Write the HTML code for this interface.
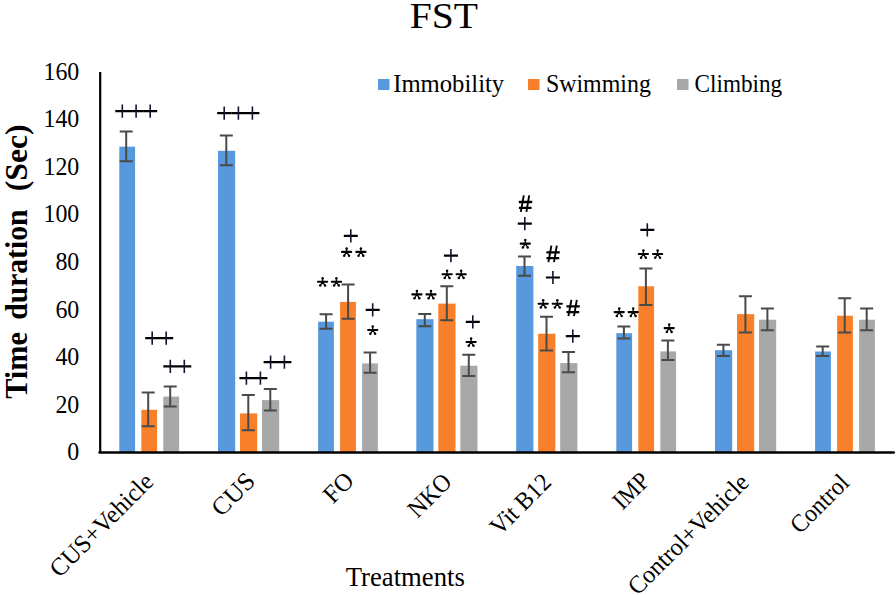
<!DOCTYPE html><html><head><meta charset="utf-8"><style>html,body{margin:0;padding:0;background:#fff;width:896px;height:595px;overflow:hidden}svg{display:block}text{font-family:"Liberation Serif", serif}</style></head><body>
<svg width="896" height="595" viewBox="0 0 896 595">
<text transform="translate(443.9,27.6) scale(1.1,1)" font-size="36" text-anchor="middle">FST</text>
<text transform="translate(79.3,460.4) scale(0.92,1)" font-size="26" text-anchor="end">0</text>
<text transform="translate(79.3,412.8) scale(0.92,1)" font-size="26" text-anchor="end">20</text>
<text transform="translate(79.3,365.2) scale(0.92,1)" font-size="26" text-anchor="end">40</text>
<text transform="translate(79.3,317.6) scale(0.92,1)" font-size="26" text-anchor="end">60</text>
<text transform="translate(79.3,270.0) scale(0.92,1)" font-size="26" text-anchor="end">80</text>
<text transform="translate(79.3,222.4) scale(0.92,1)" font-size="26" text-anchor="end">100</text>
<text transform="translate(79.3,174.8) scale(0.92,1)" font-size="26" text-anchor="end">120</text>
<text transform="translate(79.3,127.2) scale(0.92,1)" font-size="26" text-anchor="end">140</text>
<text transform="translate(79.3,79.6) scale(0.92,1)" font-size="26" text-anchor="end">160</text>
<text transform="translate(27.2,0) rotate(-90)" x="-398.8" font-size="32" font-weight="bold" textLength="66.6" lengthAdjust="spacingAndGlyphs">Time</text>
<text transform="translate(27.2,0) rotate(-90)" x="-319.8" font-size="32" font-weight="bold" textLength="110.2" lengthAdjust="spacingAndGlyphs">duration</text>
<text transform="translate(27.2,0) rotate(-90)" x="-191.2" font-size="32" font-weight="bold" textLength="66.7" lengthAdjust="spacingAndGlyphs">(Sec)</text>
<rect x="119.30" y="146.7" width="15.80" height="305.3" fill="#5799DC"/>
<rect x="141.30" y="409.8" width="15.80" height="42.2" fill="#F9802B"/>
<rect x="163.30" y="396.6" width="15.80" height="55.4" fill="#A8A8A8"/>
<rect x="218.00" y="150.8" width="17.20" height="301.2" fill="#5799DC"/>
<rect x="240.00" y="413.4" width="17.20" height="38.6" fill="#F9802B"/>
<rect x="262.00" y="400.1" width="17.20" height="51.9" fill="#A8A8A8"/>
<rect x="318.10" y="321.7" width="15.80" height="130.3" fill="#5799DC"/>
<rect x="340.10" y="301.9" width="15.80" height="150.1" fill="#F9802B"/>
<rect x="362.10" y="363.4" width="15.80" height="88.6" fill="#A8A8A8"/>
<rect x="416.30" y="319.2" width="17.20" height="132.8" fill="#5799DC"/>
<rect x="438.30" y="303.6" width="17.20" height="148.4" fill="#F9802B"/>
<rect x="460.30" y="365.7" width="17.20" height="86.3" fill="#A8A8A8"/>
<rect x="516.20" y="266.0" width="17.20" height="186.0" fill="#5799DC"/>
<rect x="538.20" y="333.7" width="17.20" height="118.3" fill="#F9802B"/>
<rect x="560.20" y="363.1" width="17.20" height="88.9" fill="#A8A8A8"/>
<rect x="616.30" y="333.2" width="15.80" height="118.8" fill="#5799DC"/>
<rect x="638.30" y="286.3" width="15.80" height="165.7" fill="#F9802B"/>
<rect x="660.30" y="351.4" width="15.80" height="100.6" fill="#A8A8A8"/>
<rect x="715.00" y="350.2" width="17.20" height="101.8" fill="#5799DC"/>
<rect x="737.00" y="314.1" width="17.20" height="137.9" fill="#F9802B"/>
<rect x="759.00" y="319.7" width="17.20" height="132.3" fill="#A8A8A8"/>
<rect x="815.10" y="351.5" width="15.80" height="100.5" fill="#5799DC"/>
<rect x="837.10" y="315.7" width="15.80" height="136.3" fill="#F9802B"/>
<rect x="859.10" y="319.7" width="15.80" height="132.3" fill="#A8A8A8"/>
<path d="M126.2 131.5V161.2M119.7 131.5H132.7M119.7 161.2H132.7" stroke="#4A4A4A" stroke-width="2" fill="none"/>
<path d="M148.2 392.4V426.3M141.7 392.4H154.7M141.7 426.3H154.7" stroke="#4A4A4A" stroke-width="2" fill="none"/>
<path d="M170.2 386.4V406.5M163.7 386.4H176.7M163.7 406.5H176.7" stroke="#4A4A4A" stroke-width="2" fill="none"/>
<path d="M226.3 135.5V165.3M219.8 135.5H232.8M219.8 165.3H232.8" stroke="#4A4A4A" stroke-width="2" fill="none"/>
<path d="M248.3 395.0V430.3M241.8 395.0H254.8M241.8 430.3H254.8" stroke="#4A4A4A" stroke-width="2" fill="none"/>
<path d="M270.3 388.9V410.5M263.8 388.9H276.8M263.8 410.5H276.8" stroke="#4A4A4A" stroke-width="2" fill="none"/>
<path d="M326.1 314.2V328.8M319.6 314.2H332.6M319.6 328.8H332.6" stroke="#4A4A4A" stroke-width="2" fill="none"/>
<path d="M348.1 284.6V318.7M341.6 284.6H354.6M341.6 318.7H354.6" stroke="#4A4A4A" stroke-width="2" fill="none"/>
<path d="M370.1 352.4V372.8M363.6 352.4H376.6M363.6 372.8H376.6" stroke="#4A4A4A" stroke-width="2" fill="none"/>
<path d="M424.8 314.1V326.2M418.3 314.1H431.3M418.3 326.2H431.3" stroke="#4A4A4A" stroke-width="2" fill="none"/>
<path d="M446.8 286.3V320.2M440.3 286.3H453.3M440.3 320.2H453.3" stroke="#4A4A4A" stroke-width="2" fill="none"/>
<path d="M468.8 354.7V376.0M462.3 354.7H475.3M462.3 376.0H475.3" stroke="#4A4A4A" stroke-width="2" fill="none"/>
<path d="M524.5 256.5V275.8M518.0 256.5H531.0M518.0 275.8H531.0" stroke="#4A4A4A" stroke-width="2" fill="none"/>
<path d="M546.5 316.7V350.4M540.0 316.7H553.0M540.0 350.4H553.0" stroke="#4A4A4A" stroke-width="2" fill="none"/>
<path d="M568.5 352.0V372.2M562.0 352.0H575.0M562.0 372.2H575.0" stroke="#4A4A4A" stroke-width="2" fill="none"/>
<path d="M623.9 326.4V338.4M617.4 326.4H630.4M617.4 338.4H630.4" stroke="#4A4A4A" stroke-width="2" fill="none"/>
<path d="M645.9 268.4V304.9M639.4 268.4H652.4M639.4 304.9H652.4" stroke="#4A4A4A" stroke-width="2" fill="none"/>
<path d="M667.9 340.4V360.1M661.4 340.4H674.4M661.4 360.1H674.4" stroke="#4A4A4A" stroke-width="2" fill="none"/>
<path d="M723.4 344.7V356.0M716.9 344.7H729.9M716.9 356.0H729.9" stroke="#4A4A4A" stroke-width="2" fill="none"/>
<path d="M745.4 296.3V332.6M738.9 296.3H751.9M738.9 332.6H751.9" stroke="#4A4A4A" stroke-width="2" fill="none"/>
<path d="M767.4 308.4V330.3M760.9 308.4H773.9M760.9 330.3H773.9" stroke="#4A4A4A" stroke-width="2" fill="none"/>
<path d="M822.7 346.5V356.0M816.2 346.5H829.2M816.2 356.0H829.2" stroke="#4A4A4A" stroke-width="2" fill="none"/>
<path d="M844.7 298.3V332.6M838.2 298.3H851.2M838.2 332.6H851.2" stroke="#4A4A4A" stroke-width="2" fill="none"/>
<path d="M866.7 308.4V330.3M860.2 308.4H873.2M860.2 330.3H873.2" stroke="#4A4A4A" stroke-width="2" fill="none"/>
<path d="M100.2 72V453" stroke="#000" stroke-width="2.2"/>
<path d="M99.5 452.5H893.8" stroke="#000" stroke-width="2.4" stroke-linecap="round"/>
<path d="M115.3 111.2H129.3M129.1 111.2H143.1M143.2 111.2H157.2M145.2 338.2H159.2M159.2 338.2H173.2M163.3 366.4H177.3M177.3 366.4H191.3M217.2 113.2H231.2M231.4 113.2H245.4M245.4 113.2H259.4M239.4 378.2H253.4M253.4 378.2H267.4M263.6 362.1H277.6M277.4 362.1H291.4M343.8 235.8H357.8M365.7 309.8H379.7M443.9 255.6H457.9M465.8 321.9H479.8M517.8 223.7H531.8M545.9 277.5H559.9M565.8 336.2H579.8M640.3 229.8H654.3" stroke="#000" stroke-width="2.2" fill="none"/>
<path d="M122.3 104.6V117.8M136.1 104.6V117.8M150.2 104.6V117.8M152.2 331.6V344.8M166.2 331.6V344.8M170.3 359.8V373.0M184.3 359.8V373.0M224.2 106.6V119.8M238.4 106.6V119.8M252.4 106.6V119.8M246.4 371.6V384.8M260.4 371.6V384.8M270.6 355.5V368.7M284.4 355.5V368.7M350.8 229.2V242.4M372.7 303.2V316.4M450.9 249.0V262.2M472.8 315.3V328.5M524.8 217.1V230.3M552.9 270.9V284.1M572.8 329.6V342.8M647.3 223.2V236.4" stroke="#1a1030" stroke-width="1.6" fill="none"/>
<path d="M318.0 281.8H327.2M331.8 281.8H341.1M342.0 251.9H351.2M356.3 251.9H365.5M368.1 330.0H377.3M412.3 294.4H421.5M426.4 294.4H435.6M442.5 274.2H451.7M456.6 274.2H465.8M466.5 342.0H475.7M520.7 243.6H529.9M538.6 303.8H547.8M552.7 303.8H561.9M614.6 312.1H623.8M628.6 312.1H637.8M638.8 254.0H648.0M653.0 254.0H662.2M664.6 328.1H673.8" stroke="#000" stroke-width="2.1" stroke-linecap="round" fill="none"/>
<path d="M322.6 281.8V278.1M322.6 281.8L320.2 285.6M322.6 281.8L325.0 285.6M336.4 281.8V278.1M336.4 281.8L334.1 285.6M336.4 281.8L338.8 285.6M346.6 251.9V248.2M346.6 251.9L344.2 255.7M346.6 251.9L349.0 255.7M360.9 251.9V248.2M360.9 251.9L358.5 255.7M360.9 251.9L363.3 255.7M372.7 330.0V326.3M372.7 330.0L370.3 333.8M372.7 330.0L375.1 333.8M416.9 294.4V290.7M416.9 294.4L414.5 298.2M416.9 294.4L419.3 298.2M431.0 294.4V290.7M431.0 294.4L428.6 298.2M431.0 294.4L433.4 298.2M447.1 274.2V270.5M447.1 274.2L444.7 278.0M447.1 274.2L449.5 278.0M461.2 274.2V270.5M461.2 274.2L458.8 278.0M461.2 274.2L463.6 278.0M471.1 342.0V338.3M471.1 342.0L468.7 345.8M471.1 342.0L473.5 345.8M525.3 243.6V239.9M525.3 243.6L522.9 247.4M525.3 243.6L527.7 247.4M543.2 303.8V300.1M543.2 303.8L540.8 307.6M543.2 303.8L545.6 307.6M557.3 303.8V300.1M557.3 303.8L554.9 307.6M557.3 303.8L559.7 307.6M619.2 312.1V308.4M619.2 312.1L616.8 315.9M619.2 312.1L621.6 315.9M633.2 312.1V308.4M633.2 312.1L630.8 315.9M633.2 312.1L635.6 315.9M643.4 254.0V250.3M643.4 254.0L641.0 257.8M643.4 254.0L645.8 257.8M657.6 254.0V250.3M657.6 254.0L655.2 257.8M657.6 254.0L660.0 257.8M669.2 328.1V324.4M669.2 328.1L666.8 331.9M669.2 328.1L671.6 331.9" stroke="#000" stroke-width="1.3" fill="none"/>
<g fill="#000"><circle cx="322.6" cy="278.3" r="1.25"/><circle cx="320.2" cy="285.6" r="1.25"/><circle cx="325.0" cy="285.6" r="1.25"/><circle cx="336.4" cy="278.3" r="1.25"/><circle cx="334.1" cy="285.6" r="1.25"/><circle cx="338.8" cy="285.6" r="1.25"/><circle cx="346.6" cy="248.4" r="1.25"/><circle cx="344.2" cy="255.7" r="1.25"/><circle cx="349.0" cy="255.7" r="1.25"/><circle cx="360.9" cy="248.4" r="1.25"/><circle cx="358.5" cy="255.7" r="1.25"/><circle cx="363.3" cy="255.7" r="1.25"/><circle cx="372.7" cy="326.5" r="1.25"/><circle cx="370.3" cy="333.8" r="1.25"/><circle cx="375.1" cy="333.8" r="1.25"/><circle cx="416.9" cy="290.9" r="1.25"/><circle cx="414.5" cy="298.2" r="1.25"/><circle cx="419.3" cy="298.2" r="1.25"/><circle cx="431.0" cy="290.9" r="1.25"/><circle cx="428.6" cy="298.2" r="1.25"/><circle cx="433.4" cy="298.2" r="1.25"/><circle cx="447.1" cy="270.7" r="1.25"/><circle cx="444.7" cy="278.0" r="1.25"/><circle cx="449.5" cy="278.0" r="1.25"/><circle cx="461.2" cy="270.7" r="1.25"/><circle cx="458.8" cy="278.0" r="1.25"/><circle cx="463.6" cy="278.0" r="1.25"/><circle cx="471.1" cy="338.5" r="1.25"/><circle cx="468.7" cy="345.8" r="1.25"/><circle cx="473.5" cy="345.8" r="1.25"/><circle cx="525.3" cy="240.1" r="1.25"/><circle cx="522.9" cy="247.4" r="1.25"/><circle cx="527.7" cy="247.4" r="1.25"/><circle cx="543.2" cy="300.3" r="1.25"/><circle cx="540.8" cy="307.6" r="1.25"/><circle cx="545.6" cy="307.6" r="1.25"/><circle cx="557.3" cy="300.3" r="1.25"/><circle cx="554.9" cy="307.6" r="1.25"/><circle cx="559.7" cy="307.6" r="1.25"/><circle cx="619.2" cy="308.6" r="1.25"/><circle cx="616.8" cy="315.9" r="1.25"/><circle cx="621.6" cy="315.9" r="1.25"/><circle cx="633.2" cy="308.6" r="1.25"/><circle cx="630.8" cy="315.9" r="1.25"/><circle cx="635.6" cy="315.9" r="1.25"/><circle cx="643.4" cy="250.5" r="1.25"/><circle cx="641.0" cy="257.8" r="1.25"/><circle cx="645.8" cy="257.8" r="1.25"/><circle cx="657.6" cy="250.5" r="1.25"/><circle cx="655.2" cy="257.8" r="1.25"/><circle cx="660.0" cy="257.8" r="1.25"/><circle cx="669.2" cy="324.6" r="1.25"/><circle cx="666.8" cy="331.9" r="1.25"/><circle cx="671.6" cy="331.9" r="1.25"/></g>
<path d="M523.8 195.4L520.8 211.8M529.2 195.4L526.4 211.8M551.4 245.7L548.4 262.1M556.8 245.7L554.0 262.1M571.4 299.8L568.4 316.2M576.8 299.8L574.0 316.2" stroke="#000" stroke-width="1.9" fill="none"/>
<path d="M518.8 202.0H532.2M518.9 207.8H531.6M546.4 252.3H559.8M546.5 258.1H559.2M566.4 306.4H579.8M566.5 312.2H579.2" stroke="#000" stroke-width="2.3" fill="none"/>
<text transform="translate(154.86,483.04) rotate(-45)" font-size="25" text-anchor="end" textLength="134.99" lengthAdjust="spacingAndGlyphs">CUS+Vehicle</text>
<text transform="translate(256.50,482.56) rotate(-45)" font-size="25" text-anchor="end" textLength="49.77" lengthAdjust="spacingAndGlyphs">CUS</text>
<text transform="translate(355.26,482.24) rotate(-45)" font-size="25" text-anchor="end" textLength="31.52" lengthAdjust="spacingAndGlyphs">FO</text>
<text transform="translate(453.22,483.36) rotate(-45)" font-size="25" text-anchor="end" textLength="50.55" lengthAdjust="spacingAndGlyphs">NKO</text>
<text transform="translate(552.62,483.52) rotate(-45)" font-size="25" text-anchor="end" textLength="74.75" lengthAdjust="spacingAndGlyphs">Vit B12</text>
<text transform="translate(651.06,482.24) rotate(-45)" font-size="25" text-anchor="end" textLength="40.40" lengthAdjust="spacingAndGlyphs">IMP</text>
<text transform="translate(750.30,483.84) rotate(-45)" font-size="25" text-anchor="end" textLength="159.13" lengthAdjust="spacingAndGlyphs">Control+Vehicle</text>
<text transform="translate(850.66,484.16) rotate(-45)" font-size="25" text-anchor="end" textLength="71.65" lengthAdjust="spacingAndGlyphs">Control</text>
<text x="405.3" y="586" font-size="26.7" text-anchor="middle">Treatments</text>
<rect x="378.0" y="79" width="11.5" height="11" fill="#5799DC"/>
<text x="393.2" y="92.3" font-size="26" textLength="111.0" lengthAdjust="spacingAndGlyphs">Immobility</text>
<rect x="528.0" y="79" width="11.5" height="11" fill="#F9802B"/>
<text x="545.9" y="92.3" font-size="26" textLength="105.0" lengthAdjust="spacingAndGlyphs">Swimming</text>
<rect x="677.0" y="79" width="11.5" height="11" fill="#A8A8A8"/>
<text x="694.6" y="92.3" font-size="26" textLength="87.6" lengthAdjust="spacingAndGlyphs">Climbing</text>
</svg></body></html>
